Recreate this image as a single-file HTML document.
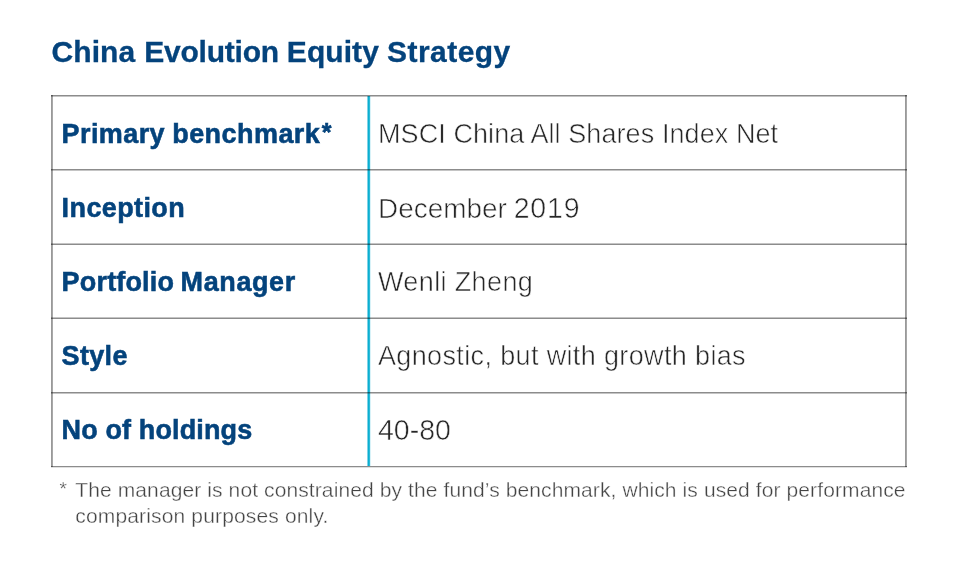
<!DOCTYPE html>
<html>
<head>
<meta charset="utf-8">
<style>
html,body{margin:0;padding:0;background:#fff;}
body{width:960px;height:573px;position:relative;overflow:hidden;font-family:"Liberation Sans",Arial,sans-serif;}
.title{position:absolute;top:36.6px;font-weight:bold;font-size:30px;line-height:30px;color:#04437c;white-space:nowrap;letter-spacing:0.08px;-webkit-text-stroke:0.3px #04437c;}
.hd,.hl,.hx{position:absolute;left:51px;width:856px;height:1px;}
.hd{background:rgba(0,0,0,0.45);}
.hl{background:rgba(0,0,0,0.23);}
.hx{background:rgba(0,0,0,0.12);}
.vd,.vl{position:absolute;top:95px;width:1px;height:372px;}
.vd{background:rgba(0,0,0,0.40);}
.vl{background:rgba(0,0,0,0.34);}
.c0,.c1,.c2,.c3{position:absolute;top:96px;width:1px;height:370px;}
.c0{left:367px;background:#7fd3e8;}
.c1{left:368px;background:#0aafd0;}
.c2{left:369px;background:#2ab9d8;}
.c3{left:370px;background:#d8f2f8;}
.k{position:absolute;left:61.6px;font-weight:bold;font-size:27px;line-height:30px;color:#04437c;white-space:nowrap;-webkit-text-stroke:0.55px #04437c;transform:scaleY(1.035);transform-origin:0 24px;}
.v{position:absolute;left:378px;font-size:27px;line-height:30px;color:#262626;white-space:nowrap;-webkit-text-stroke:0.55px #fff;transform:scaleY(1.035);transform-origin:0 24px;}
.fn{position:absolute;left:75.3px;top:476.8px;font-size:21px;line-height:26.3px;color:#444;width:870px;white-space:nowrap;-webkit-text-stroke:0.35px #fff;}
.ast{position:absolute;left:59.5px;top:479.6px;font-size:19px;line-height:18px;color:#444;-webkit-text-stroke:0.3px #fff;}
</style>
</head>
<body>
<div class="title" style="left:51.5px"><span id="s0" style=";margin-left:0.00px">China</span> <span id="s1" style="letter-spacing:-0.22px;margin-left:0.54px">Evolution</span> <span id="s2" style=";margin-left:-0.52px">Equity</span> <span id="s3" style="letter-spacing:0.45px;margin-left:-0.31px">Strategy</span></div>

<div class="c0"></div><div class="c1"></div><div class="c2"></div><div class="c3"></div>
<div class="hd" style="top:95px"></div>
<div class="hl" style="top:96px"></div>
<div class="hd" style="top:169px"></div>
<div class="hl" style="top:170px"></div>
<div class="hl" style="top:243px"></div>
<div class="hd" style="top:244px"></div>
<div class="hl" style="top:317px"></div>
<div class="hd" style="top:318px"></div>
<div class="hd" style="top:392px"></div>
<div class="hl" style="top:393px"></div>
<div class="hd" style="top:466px"></div>
<div class="hx" style="top:467px"></div>
<div class="vd" style="left:51px"></div>
<div class="vl" style="left:52px"></div>
<div class="vd" style="left:905px"></div>
<div class="vl" style="left:906px"></div>

<div class="k" style="top:119px"><span id="s4" style="letter-spacing:0.4px;margin-left:0.02px">Primary</span> <span id="s5" style="letter-spacing:0.44px;margin-left:-0.29px">benchmark</span><span id="s6" style="font-size:25px;position:relative;top:-2px;margin-left:1.38px">*</span></div>
<div class="v" style="top:119px"><span style="letter-spacing:0.08px">MSCI China All Shares Index Net</span></div>
<div class="k" style="top:193px"><span id="s7" style="letter-spacing:0.39px;margin-left:0.02px">Inception</span></div>
<div class="v" style="top:193px"><span style="display:inline-block;transform:scaleX(1.034);transform-origin:0 0">December</span><span> </span><span style="letter-spacing:0.85px;font-size:28.5px;margin-left:3.6px">2019</span></div>
<div class="k" style="top:267px"><span id="s8" style="letter-spacing:0.17px;margin-left:0.02px">Portfolio</span> <span id="s9" style="letter-spacing:0.62px;margin-left:-1.14px">Manager</span></div>
<div class="v" style="top:267px"><span style="letter-spacing:0.37px">Wenli Zheng</span></div>
<div class="k" style="top:341px"><span id="s10" style="letter-spacing:0.32px;margin-left:0.02px">Style</span></div>
<div class="v" style="top:341px"><span style="letter-spacing:0.36px">Agnostic, but with growth bias</span></div>
<div class="k" style="top:415px"><span id="s11" style="letter-spacing:0.13px;margin-left:0.02px">No of holdings</span></div>
<div class="v" style="top:415px"><span style="font-size:28.5px">40-80</span></div>

<div class="ast">*</div>
<div class="fn"><span style="letter-spacing:0.105px">The manager is not constrained by the fund’s benchmark, which is used for performance</span><br><span style="letter-spacing:0.15px">comparison purposes only.</span></div>
</body>
</html>
